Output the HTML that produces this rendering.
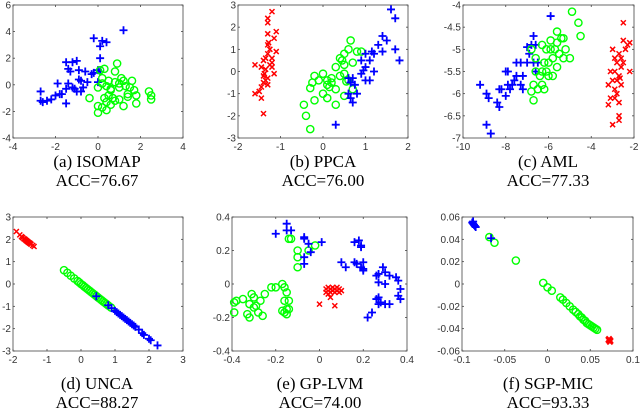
<!DOCTYPE html>
<html><head><meta charset="utf-8">
<style>
body{margin:0;background:#fff;width:640px;height:414px;overflow:hidden}
svg{display:block}
.tk{font:10px "Liberation Sans",sans-serif;fill:#333}
.cap{font:17px "Liberation Serif",serif;fill:#000}
</style></head><body>
<svg id="fig" width="640" height="414"></svg>
<script>
// Panel (a) ISOMAP
const aBlue=[[-2.7,-0.5],[-2.7,-1.2],[-2.6,-1.3],[-2.4,-1.2],[-2.2,-1.1],[-2.0,-0.8],[-1.9,0.1],[-1.8,-0.7],[-1.7,-0.7],[-1.5,-1.4],[-1.5,1.7],[-1.4,1.2],[-1.3,1.0],[-1.2,1.7],[-1.0,1.8],[-1.4,0.1],[-1.2,-0.2],[-1.1,-0.3],[-1.0,-0.5],[-0.9,0.4],[-0.8,0.3],[-0.9,1.1],[-0.8,-0.5],[-0.7,-0.2],[-0.6,1.0],[-0.5,0.2],[-0.2,0.9],[-0.2,3.5],[0,0.2],[0.1,1.0],[0.1,2.0],[0.1,2.9],[0.2,3.3],[0.4,3.2],[1.2,4.1],[0.0,1.1],[-1.5,-0.3],[-0.3,0.8]];
const aGreen=[[0.9,1.6],[0.8,1.0],[0.3,1.2],[0.1,1.1],[0.2,0.1],[0.4,-0.1],[0.5,0.3],[0.6,-0.3],[0.8,0.2],[1.0,0.1],[1.1,0.5],[1.2,0.3],[1.3,-0.1],[1.5,-0.2],[1.6,0.3],[1.7,-0.4],[1.8,-0.8],[1.8,-1.4],[1.4,-0.7],[1.4,-0.9],[1.0,-1.1],[0.7,-1.0],[0.5,-0.8],[0.3,-1.0],[0.2,-1.7],[0.0,-1.6],[0.0,-2.1],[0.4,-1.9],[0.6,-1.5],[0.8,-1.2],[1.2,-1.6],[-0.4,-1.0],[0.6,-0.4],[0.4,-1.3],[2.4,-0.5],[2.5,-0.8],[2.5,-1.1],[1.0,-0.2],[0.0,-0.2],[0.2,0.5]];
const aRed=[];
// Panel (b) PPCA
const bRed=[[-1.2,2.7],[-1.3,2.4],[-1.3,2.2],[-1.1,1.8],[-1.3,1.7],[-1.15,1.5],[-1.3,1.2],[-1.25,1.0],[-1.3,0.8],[-1.1,0.9],[-1.2,0.6],[-1.35,0.6],[-1.4,0.5],[-1.25,0.3],[-1.2,0.2],[-1.6,0.3],[-1.35,0.1],[-1.45,0.2],[-1.4,-0.2],[-1.3,-0.3],[-1.35,-0.4],[-1.4,-0.5],[-1.3,-0.6],[-1.45,-0.7],[-1.5,-0.9],[-1.6,-1.0],[-1.45,-1.2],[-1.4,-1.9],[-1.15,-0.1],[-1.2,0.4],[-1.28,1.3],[-1.38,-0.1]];
const bGreen=[[-0.45,-1.5],[-0.4,-2.0],[-0.3,-2.6],[-0.3,-0.75],[-0.25,-0.5],[-0.2,-1.3],[0.0,-1.0],[0.1,-1.2],[0.1,-0.6],[0.15,-0.7],[0.2,-0.5],[0.3,-0.8],[0.4,-0.2],[0.5,-0.1],[0.3,0.2],[0.4,0.6],[0.5,0.8],[0.6,1.0],[0.5,0.3],[0.7,0.4],[0.65,1.4],[0.8,0.9],[0.9,0.9],[0.6,-0.4],[0.2,-0.3],[0.0,-0.1],[-0.1,-0.4],[-0.2,-0.2],[0.3,-1.5],[0.5,-1.1],[0.7,-0.8],[0.45,0.5],[0.1,-0.4],[0.55,-0.45]];
const bBlue=[[1.6,2.8],[1.7,2.4],[1.4,1.6],[1.5,1.4],[1.7,1.0],[1.8,0.5],[1.2,0.8],[1.3,1.2],[1.0,0.8],[1.1,0.5],[0.9,0.5],[1.0,0.2],[1.2,0.0],[1.1,-0.4],[1.0,-0.4],[0.9,-0.1],[0.7,-0.3],[0.6,-0.3],[0.65,-0.5],[0.65,-1.2],[0.7,-1.4],[0.6,-1.0],[0.8,-1.0],[0.3,-2.4],[0.75,-0.6],[1.15,0.9],[1.4,0.9],[0.95,0.05]];
// Panel (c) AML
const cBlue=[[-9.2,-5.8],[-8.9,-6.0],[-8.8,-6.1],[-8.9,-6.7],[-8.7,-6.9],[-8.4,-6.2],[-8.3,-6.3],[-8.3,-5.9],[-8.2,-5.9],[-8.0,-6.05],[-8.0,-5.5],[-7.9,-5.5],[-7.9,-5.8],[-7.8,-5.9],[-7.6,-5.7],[-7.5,-5.6],[-7.5,-5.3],[-7.3,-5.3],[-7.2,-5.6],[-7.2,-5.9],[-7.0,-5.3],[-6.9,-5.1],[-6.8,-4.9],[-6.7,-4.7],[-6.6,-4.9],[-6.7,-5.3],[-6.6,-5.5],[-6.5,-5.3],[-5.9,-4.25],[-7.0,-4.95],[-7.3,-5.8],[-7.7,-5.8]];
const cGreen=[[-4.9,-4.15],[-4.6,-4.4],[-4.5,-4.7],[-5.6,-4.6],[-5.4,-4.75],[-5.3,-4.75],[-5.6,-4.85],[-5.2,-5.0],[-5.3,-5.2],[-5.5,-5.1],[-5.7,-5.0],[-5.8,-5.2],[-5.9,-5.0],[-6.1,-5.0],[-6.0,-5.3],[-6.1,-5.5],[-6.2,-5.3],[-6.3,-5.5],[-6.4,-5.6],[-6.3,-5.8],[-6.2,-5.9],[-6.5,-5.9],[-6.7,-5.8],[-6.8,-5.95],[-6.7,-6.15],[-6.6,-5.5],[-6.0,-5.6],[-5.8,-5.6],[-5.6,-5.4],[-5.0,-5.2],[-6.3,-4.9],[-5.9,-4.8],[-6.8,-5.0],[-6.6,-5.2]];
const cRed=[[-2.5,-4.4],[-2.3,-4.9],[-2.2,-4.85],[-2.2,-5.5],[-2.5,-4.8],[-2.4,-5.0],[-2.7,-5.1],[-2.6,-5.2],[-2.8,-5.3],[-3.0,-5.0],[-2.6,-5.4],[-2.9,-5.5],[-3.1,-5.5],[-2.7,-5.6],[-2.8,-5.7],[-3.0,-5.7],[-3.2,-5.8],[-2.9,-5.9],[-2.8,-6.0],[-2.9,-6.1],[-3.1,-6.1],[-2.7,-6.2],[-3.2,-6.25],[-2.7,-6.5],[-2.7,-6.6],[-3.0,-6.7],[-2.6,-5.8],[-2.5,-5.3],[-2.9,-5.2],[-2.65,-5.65]];
// Panel (d) UNCA
const dRed=[[-1.9,2.35],[-1.8,2.2],[-1.75,2.12],[-1.72,2.08],[-1.68,2.03],[-1.65,2.0],[-1.62,1.96],[-1.6,1.93],[-1.57,1.9],[-1.55,1.87],[-1.52,1.84],[-1.5,1.82],[-1.47,1.78],[-1.42,1.73],[-1.38,1.68]];
const dGreen=[[-0.5,0.62],[-0.4,0.5],[-0.3,0.37],[-0.2,0.25],[-0.1,0.13],[-0.05,0.07],[0.0,0.0],[0.05,-0.05],[0.1,-0.12],[0.15,-0.18],[0.2,-0.24],[0.25,-0.3],[0.3,-0.36],[0.35,-0.42],[0.4,-0.48],[0.45,-0.54],[0.5,-0.6],[0.55,-0.66],[0.6,-0.72],[0.65,-0.78],[0.7,-0.84],[0.75,-0.9],[0.8,-0.96],[0.88,-1.05]];
const dBlue=[[0.45,-0.55],[0.8,-0.95],[0.9,-1.08],[1.0,-1.2],[1.05,-1.26],[1.1,-1.32],[1.15,-1.38],[1.2,-1.44],[1.25,-1.5],[1.3,-1.56],[1.35,-1.62],[1.4,-1.68],[1.45,-1.74],[1.5,-1.8],[1.55,-1.86],[1.6,-1.92],[1.7,-2.04],[1.8,-2.2],[1.85,-2.28],[2.0,-2.45],[2.05,-2.52],[2.25,-2.75]];
// Panel (e) GP-LVM
const eBlue=[[-0.15,0.36],[-0.15,0.32],[-0.13,0.32],[-0.2,0.3],[-0.07,0.28],[-0.07,0.27],[-0.05,0.24],[0.01,0.25],[-0.04,0.19],[-0.07,0.16],[-0.07,0.12],[0.16,0.25],[0.18,0.26],[0.19,0.23],[0.19,0.22],[0.1,0.13],[0.12,0.10],[0.16,0.13],[0.17,0.12],[0.2,0.13],[0.2,0.09],[0.19,0.10],[0.2,0.08],[0.29,0.10],[0.3,0.07],[0.27,0.06],[0.26,0.05],[0.32,0.05],[0.27,0.01],[0.3,0.00],[0.35,0.04],[0.36,0.02],[0.37,-0.03],[0.36,-0.07],[0.37,-0.09],[0.26,-0.09],[0.27,-0.12],[0.3,-0.12],[0.32,-0.12],[0.28,-0.11],[0.24,-0.17],[0.22,-0.2],[0.27,-0.08]];
const eGreen=[[-0.14,0.27],[-0.13,0.27],[-0.1,0.2],[-0.1,0.16],[-0.1,0.1],[-0.05,0.2],[-0.02,0.23],[-0.17,0.0],[-0.16,-0.02],[-0.15,-0.05],[-0.2,-0.02],[-0.22,-0.02],[-0.25,-0.06],[-0.27,-0.1],[-0.3,-0.08],[-0.32,-0.12],[-0.3,-0.14],[-0.33,-0.18],[-0.32,-0.2],[-0.35,-0.09],[-0.38,-0.1],[-0.39,-0.11],[-0.39,-0.17],[-0.28,-0.17],[-0.26,-0.19],[-0.17,-0.16],[-0.16,-0.17],[-0.15,-0.15],[-0.14,-0.15],[-0.15,-0.18],[-0.14,-0.1],[-0.16,-0.1],[-0.29,-0.13],[-0.31,-0.06]];
const eRed=[[0.03,-0.03],[0.04,-0.02],[0.05,-0.03],[0.06,-0.02],[0.07,-0.03],[0.08,-0.02],[0.09,-0.03],[0.1,-0.04],[0.05,-0.05],[0.06,-0.04],[0.07,-0.05],[0.08,-0.04],[0.04,-0.06],[0.05,-0.08],[0.0,-0.12],[0.07,-0.13],[0.03,-0.05],[0.09,-0.05]];
// Panel (f) SGP-MIC
const fBlue=[[-0.088,0.055],[-0.087,0.054],[-0.086,0.053],[-0.085,0.052],[-0.084,0.051],[-0.087,0.056],[-0.066,0.041]];
const fGreen=[[-0.068,0.042],[-0.062,0.037],[-0.037,0.021],[-0.005,0.001],[0.0,-0.003],[0.005,-0.006],[0.015,-0.012],[0.018,-0.014],[0.022,-0.017],[0.026,-0.02],[0.03,-0.023],[0.033,-0.025],[0.036,-0.027],[0.038,-0.029],[0.04,-0.03],[0.042,-0.032],[0.044,-0.033],[0.046,-0.035],[0.048,-0.036],[0.05,-0.037],[0.052,-0.038],[0.054,-0.039],[0.056,-0.04],[0.058,-0.041]];
const fRed=[[0.071,-0.05],[0.072,-0.051],[0.073,-0.05],[0.073,-0.052],[0.072,-0.049],[0.074,-0.051]];
// Tick labels
const aXT=[-4,-2,0,2,4], aYT=[-4,-2,0,2,4,6];
const bXT=[-2,-1,0,1,2], bYT=[-3,-2,-1,0,1,2,3];
const cXT=[-10,-8,-6,-4,-2], cYT=[-7,-6.5,-6,-5.5,-5,-4.5,-4];
const dXT=[-2,-1,0,1,2,3], dYT=[-3,-2,-1,0,1,2,3];
const eXT=[-0.4,-0.2,0,0.2,0.4], eYT=[-0.4,-0.2,0,0.2,0.4];
const fXT=[-0.1,-0.05,0,0.05,0.1], fYT=[-0.06,-0.04,-0.02,0,0.02,0.04,0.06];
const captions=[["(a) ISOMAP","ACC=76.67"],["(b) PPCA","ACC=76.00"],["(c) AML","ACC=77.33"],["(d) UNCA","ACC=88.27"],["(e) GP-LVM","ACC=74.00"],["(f) SGP-MIC","ACC=93.33"]];

const NS="http://www.w3.org/2000/svg";
const svg=document.getElementById('fig');
function mk(tag,attrs,parent){const e=document.createElementNS(NS,tag);for(const k in attrs)e.setAttribute(k,attrs[k]);(parent||svg).appendChild(e);return e;}
const panels=[
 {id:'a',box:[13,5,183,138],xt:aXT,yt:aYT,s:[[aBlue,'+'],[aGreen,'o'],[aRed,'x']],cx:97,cy:161},
 {id:'b',box:[238,5,408,138],xt:bXT,yt:bYT,s:[[bRed,'x'],[bGreen,'o'],[bBlue,'+']],cx:323,cy:161},
 {id:'c',box:[463,5,634,138],xt:cXT,yt:cYT,s:[[cBlue,'+'],[cGreen,'o'],[cRed,'x']],cx:548,cy:161},
 {id:'d',box:[13,217,183,351],xt:dXT,yt:dYT,s:[[dRed,'x'],[dGreen,'o'],[dBlue,'+']],cx:97,cy:383},
 {id:'e',box:[232,217,407,351],xt:eXT,yt:eYT,s:[[eGreen,'o'],[eBlue,'+'],[eRed,'x']],cx:320,cy:383},
 {id:'f',box:[462,217,633,351],xt:fXT,yt:fYT,s:[[fGreen,'o'],[fBlue,'+'],[fRed,'x']],cx:548,cy:383}
];
panels.forEach((p,i)=>{
 const [x0,y0,x1,y1]=p.box;
 const xmin=p.xt[0],xmax=p.xt[p.xt.length-1],ymin=p.yt[0],ymax=p.yt[p.yt.length-1];
 const sx=v=>x0+(v-xmin)/(xmax-xmin)*(x1-x0);
 const sy=v=>y1-(v-ymin)/(ymax-ymin)*(y1-y0);
 const g=mk('g',{});
 
 
 const fr=mk('rect',{x:x0,y:y0,width:x1-x0,height:y1-y0,fill:'#fff',stroke:'#444','stroke-width':0.8},g);
 
 
 p.xt.forEach(v=>{
  const X=sx(v);
  mk('line',{x1:X,y1:y1,x2:X,y2:y1-2,stroke:'#444','stroke-width':0.8},g);
  mk('line',{x1:X,y1:y0,x2:X,y2:y0+2,stroke:'#444','stroke-width':0.8},g);
  const t=mk('text',{x:X,y:y1+12,'text-anchor':'middle',class:'tk'},g);t.textContent=v;
  
  
 });
 p.yt.forEach(v=>{
  const Y=sy(v);
  mk('line',{x1:x0,y1:Y,x2:x0+2,y2:Y,stroke:'#444','stroke-width':0.8},g);
  mk('line',{x1:x1,y1:Y,x2:x1-2,y2:Y,stroke:'#444','stroke-width':0.8},g);
  const t=mk('text',{x:x0-2,y:Y+3.5,'text-anchor':'end',class:'tk'},g);t.textContent=v;
  
  
 });
 p.s.forEach(([pts,m])=>{
  pts.forEach(([vx,vy])=>{
   const X=sx(vx),Y=sy(vy);let e;
   if(m==='o'){e=mk('circle',{cx:X,cy:Y,r:3.6,fill:'none',stroke:'#00ff00','stroke-width':1.4},g);}
   else if(m==='+'){e=mk('path',{d:`M${X-4},${Y}H${X+4}M${X},${Y-4}V${Y+4}`,stroke:'#0000ff','stroke-width':1.8,fill:'none'},g);}
   else {e=mk('path',{d:`M${X-2.5},${Y-2.5}L${X+2.5},${Y+2.5}M${X-2.5},${Y+2.5}L${X+2.5},${Y-2.5}`,stroke:'#ff0000','stroke-width':1.5,fill:'none'},g);}
   
   
  });
 });
 const c1=mk('text',{x:p.cx,y:p.cy+6,'text-anchor':'middle',class:'cap'},g);c1.textContent=captions[i][0];
 
 
 const c2=mk('text',{x:p.cx,y:p.cy+25,'text-anchor':'middle',class:'cap'},g);c2.textContent=captions[i][1];
 
 
});
</script>
</body></html>
